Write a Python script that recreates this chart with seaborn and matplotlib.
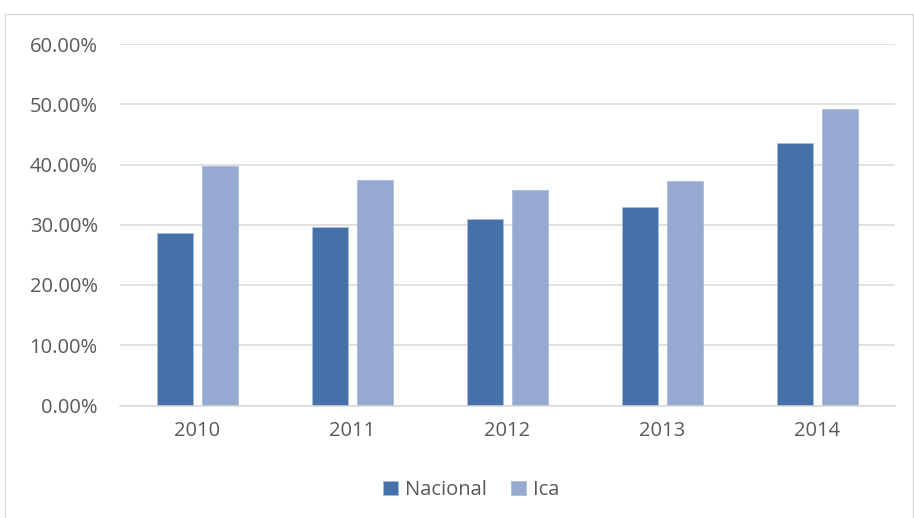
import seaborn as sns
import matplotlib.pyplot as plt
import pandas as pd
from matplotlib.ticker import PercentFormatter
from matplotlib.patches import Rectangle

# values (fractions)
years = ['2010', '2011', '2012', '2013', '2014']
nacional = [0.2865, 0.297, 0.309, 0.329, 0.435]
ica = [0.397, 0.375, 0.357, 0.372, 0.492]
series = ['Nacional', 'Ica']
colors = ['#4472A8', '#95A9D1']

df = pd.DataFrame({
    'year': years * 2,
    'value': nacional + ica,
    'serie': ['Nacional'] * len(years) + ['Ica'] * len(years),
})

sns.set_style('white')
plt.rcParams['font.family'] = ['Open Sans', 'DejaVu Sans']

fig = plt.figure(figsize=(9.14, 5.18), dpi=100)
ax = fig.add_axes([120 / 914, 1 - 405.5 / 518, 775 / 914, (405.5 - 44) / 518])

# chart frame
fig.patches.append(Rectangle((5 / 914, -0.1), 0.999 - 5 / 914, 1.1 - 14 / 518,
                             transform=fig.transFigure, fill=False,
                             edgecolor='#D9D9D9', linewidth=1.0))

sns.barplot(data=df, x='year', y='value', hue='serie', hue_order=series,
            palette=colors, width=0.58, gap=0.22, ax=ax, saturation=1,
            edgecolor='#A9BCDF', linewidth=0.6)

ax.set_ylim(0, 0.6)
ax.set_xlim(-0.5, 4.5)
ax.set_yticks([0, 0.1, 0.2, 0.3, 0.4, 0.5, 0.6])
ax.yaxis.set_major_formatter(PercentFormatter(1.0, decimals=2))
ax.grid(axis='y', color='#D9D9D9', linewidth=1.1)
ax.set_axisbelow(True)
for s in ['top', 'right', 'left']:
    ax.spines[s].set_visible(False)
ax.spines['bottom'].set_color('#D9D9D9')
ax.spines['bottom'].set_linewidth(1.1)
ax.tick_params(axis='both', length=0, labelsize=14.5, colors='#595959')
ax.tick_params(axis='y', pad=16)
ax.tick_params(axis='x', pad=11)
ax.set_xlabel('')
ax.set_ylabel('')

ax.legend(loc='center', frameon=False, ncol=2, fontsize=14.5,
          handlelength=0.75, handleheight=0.75, handletextpad=0.35,
          columnspacing=1.2, labelcolor='#595959')
leg = ax.get_legend()
leg.set_bbox_to_anchor((471 / 914, 1 - 490 / 518), transform=fig.transFigure)

fig.savefig('out.png', dpi=100)
